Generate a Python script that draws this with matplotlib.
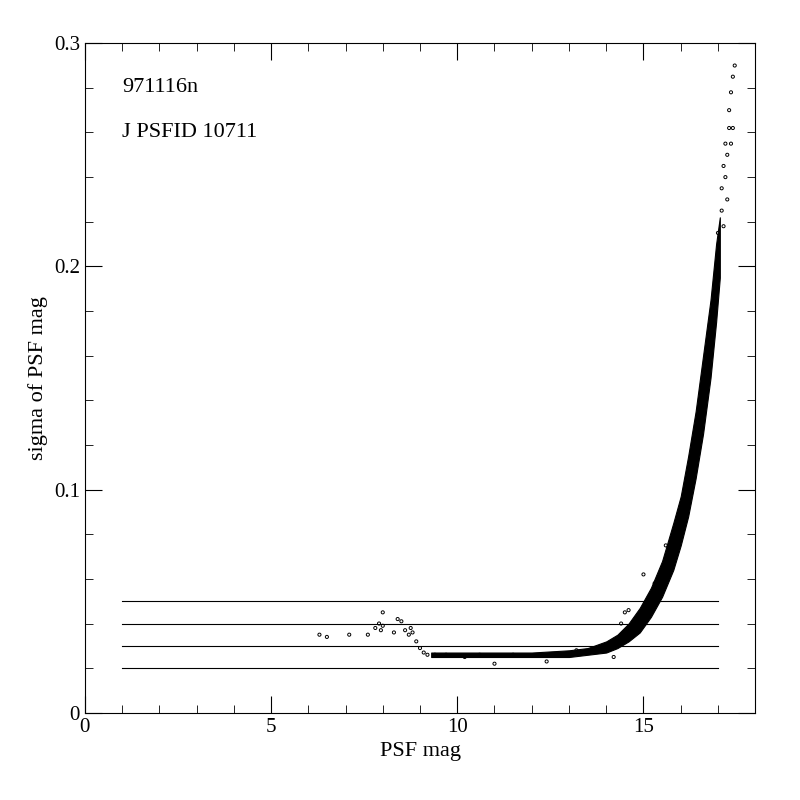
import matplotlib
matplotlib.use("Agg")
import matplotlib.pyplot as plt
from matplotlib.ticker import MultipleLocator, FuncFormatter

plt.rcParams['font.family'] = ['Liberation Serif', 'DejaVu Serif']

# dense part of the cloud, read as envelopes
band_mag = [9.3, 10.0, 11.0, 12.0, 13.0, 13.5, 14.0, 14.3, 14.6, 14.9, 15.2, 15.5,
            15.8, 16.0, 16.2, 16.4, 16.6, 16.8, 16.95, 17.05]
band_lo = [0.025, 0.025, 0.025, 0.025, 0.025, 0.026, 0.027, 0.029, 0.032, 0.036, 0.043, 0.052,
           0.064, 0.075, 0.088, 0.105, 0.125, 0.150, 0.175, 0.195]
band_hi = [0.027, 0.027, 0.027, 0.027, 0.028, 0.029, 0.032, 0.035, 0.040, 0.047, 0.056, 0.068,
           0.085, 0.097, 0.115, 0.135, 0.160, 0.185, 0.210, 0.222]

# sparse individual stars
pt_mag = [6.3, 6.5, 7.1, 7.6, 7.8, 7.9, 8.0, 8.0, 7.95, 8.3, 8.4, 8.5, 8.6, 8.7, 8.75,
          8.8, 8.9, 9.0, 9.1, 9.2, 9.4, 9.7, 10.2, 10.6, 11.0, 11.5, 12.4, 13.2,
          14.2, 14.4, 14.5, 14.6, 15.0, 15.3, 15.6,
          17.0, 17.1, 17.1, 17.15, 17.15, 17.2, 17.2, 17.25, 17.25, 17.3, 17.3,
          17.35, 17.35, 17.4, 17.4, 17.45]
pt_sig = [0.035, 0.034, 0.035, 0.035, 0.038, 0.040, 0.045, 0.039, 0.037, 0.036, 0.042, 0.041,
          0.037, 0.035, 0.038, 0.036, 0.032, 0.029, 0.027, 0.026, 0.026, 0.026, 0.025, 0.026,
          0.022, 0.026, 0.023, 0.028,
          0.025, 0.040, 0.045, 0.046, 0.062, 0.058, 0.075,
          0.215, 0.225, 0.235, 0.245, 0.218, 0.240, 0.255, 0.250, 0.230, 0.262, 0.270,
          0.278, 0.255, 0.285, 0.262, 0.290]

ref_levels = [0.02, 0.03, 0.04, 0.05]

fig = plt.figure(figsize=(8, 8), dpi=100)
ax = fig.add_axes([0.106, 0.109, 0.838, 0.837])

ax.fill_between(band_mag, band_lo, band_hi, color='black', lw=0.8)
ax.scatter(pt_mag, pt_sig, s=5, facecolors='none', edgecolors='black', linewidths=0.7)
for lev in ref_levels:
    ax.plot([1, 17], [lev, lev], color='black', lw=0.8)

ax.set_xlim(0, 18)
ax.set_ylim(0, 0.3)
ax.xaxis.set_major_locator(MultipleLocator(5))
ax.xaxis.set_minor_locator(MultipleLocator(1))
ax.yaxis.set_major_locator(MultipleLocator(0.1))
ax.yaxis.set_minor_locator(MultipleLocator(0.02))
ax.yaxis.set_major_formatter(FuncFormatter(lambda v, p: '0' if abs(v) < 1e-9 else f'{v:.1f}'))
ax.tick_params(which='both', direction='in', top=True, right=True, labelsize=15)
ax.tick_params(which='major', length=12)
ax.tick_params(which='minor', length=6)
ax.set_xlabel('PSF mag', fontsize=16)
ax.set_ylabel('sigma of PSF mag', fontsize=16)
ax.text(1.0, 0.278, '971116n', fontsize=16)
ax.text(1.0, 0.258, 'J PSFID 10711', fontsize=16)

fig.savefig('out.png')
